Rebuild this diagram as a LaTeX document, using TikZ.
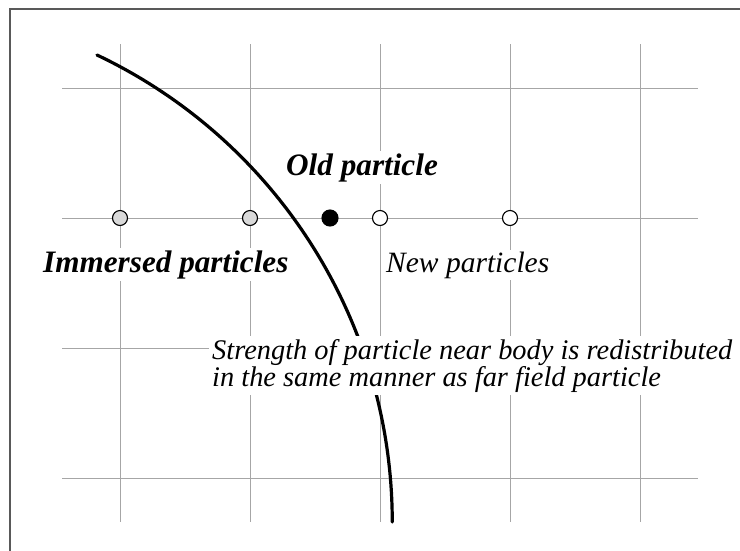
\documentclass[tikz,border=0pt]{standalone}
\usepackage{fontspec}
\setmainfont{Liberation Serif}
\begin{document}
\begin{tikzpicture}[x=1pt,y=-1pt,
  gridline/.style={draw=gray!70,line width=0.9pt},
  frameline/.style={draw=black!65,line width=2pt},
  body/.style={line width=3.2pt,line cap=round},
  particle/.style={circle,draw=black,line width=1.1pt,minimum size=15pt,inner sep=0pt},
  immersed/.style={particle,fill=gray!30},
  newp/.style={particle,fill=white},
  oldp/.style={particle,fill=black,minimum size=16pt},
  lab/.style={fill=white,inner sep=2pt,font=\fontsize{29.5}{26}\selectfont\itshape},
  slab/.style={lab,font=\fontsize{28.4}{26}\selectfont\itshape},
  blab/.style={lab,font=\fontsize{31.2}{26}\selectfont\bfseries\itshape}]
\useasboundingbox (0,0) rectangle (740,550);
% frame
\draw[frameline] (10,552) -- (10,9) -- (742,9);
% grid
\foreach \gx in {120,250,380,510,640} \draw[gridline] (\gx,44) -- (\gx,522);
\foreach \gy in {88,218,348,478} \draw[gridline] (62,\gy) -- (698,\gy);
% body surface
\draw[body] (97,55) arc[start angle=-64.6,end angle=0,radius=517];
% labels
\node[blab,anchor=base west] (old) at (284,175) {Old particle};
\node[blab,anchor=base west] (imm) at (41,272) {Immersed particles};
\node[lab,anchor=base west] (new) at (384,272) {New particles};
\node[slab,anchor=north west,align=left,inner sep=3pt] (str) at (209,336)
  {Strength of particle near body is redistributed\\in the same manner as far field particle};
% particles
\node[immersed] (p1) at (120,218) {};
\node[immersed] (p2) at (250,218) {};
\node[oldp] (p3) at (330,218) {};
\node[newp] (p4) at (380,218) {};
\node[newp] (p5) at (510,218) {};
\end{tikzpicture}
\end{document}
